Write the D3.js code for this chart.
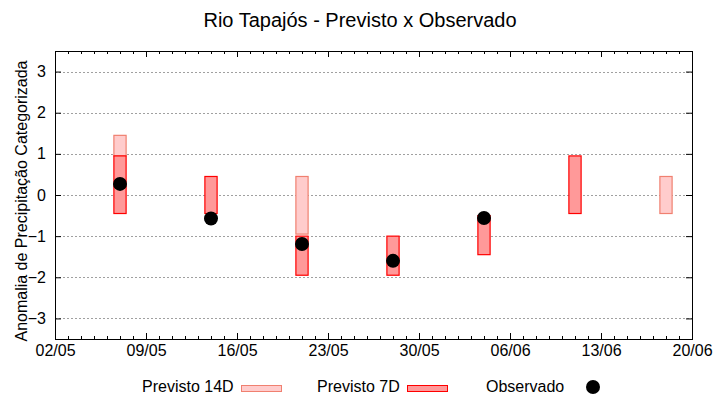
<!DOCTYPE html>
<head>
  <meta charset="utf-8">
  <script src="https://d3js.org/d3.v7.min.js"></script>
  <style>
    body { margin: 0; background: #fff; }
    text { font-family: "Liberation Sans", Arial, sans-serif; fill: #000; }
    .grid line { stroke: #a0a0a0; stroke-dasharray: 2,2; }
  </style>
</head>
<body>
  <script>
    var width = 720;
    var height = 400;

    // weekly forecasts / observations
    var dates = ["2021-05-07", "2021-05-14", "2021-05-21", "2021-05-28", "2021-06-04", "2021-06-11", "2021-06-18"];
    var prev14Low  = [0.95, null, -0.95, null, null, null, -0.45];
    var prev14High = [1.45, null, 0.45, null, null, null, 0.45];
    var prev7Low   = [-0.45, -0.45, -1.95, -1.95, -1.45, -0.45, null];
    var prev7High  = [0.95, 0.45, -1.0, -1.0, -0.5, 0.95, null];
    var observado  = [0.27, -0.57, -1.19, -1.6, -0.56, null, null];
    var xTicks = ["2021-05-02", "2021-05-09", "2021-05-16", "2021-05-23", "2021-05-30", "2021-06-06", "2021-06-13", "2021-06-20"];
    var yTicks = [-3, -2, -1, 0, 1, 2, 3];

    var margin = {left: 55, right: 28, top: 51, bottom: 61};
    var svg = d3.select("body").append("svg")
        .attr("width", width)
        .attr("height", height);

    var parse = d3.utcParse("%Y-%m-%d");
    var x = d3.scaleUtc()
        .domain([parse("2021-05-02"), parse("2021-06-20")])
        .range([margin.left, width - margin.right]);
    var y = d3.scaleLinear()
        .domain([-3.5, 3.5])
        .range([height - margin.bottom, margin.top]);

    var day = x(parse("2021-05-03")) - x(parse("2021-05-02"));
    var boxW = day * 0.94;

    // grid
    svg.append("g").attr("class", "grid")
      .selectAll("line").data(yTicks).enter().append("line")
        .attr("x1", margin.left).attr("x2", width - margin.right)
        .attr("y1", d => Math.round(y(d)) + 0.5).attr("y2", d => Math.round(y(d)) + 0.5);

    // axes
    var fmt = d3.utcFormat("%d/%m");
    var xt = xTicks.map(parse);
    var days = d3.utcDay.range(x.domain()[0], d3.utcDay.offset(x.domain()[1], 1));

    svg.append("g").attr("transform", "translate(0," + (height - margin.bottom) + ")")
      .call(d3.axisBottom(x).tickValues(days).tickSize(-3).tickFormat(""));
    svg.append("g").attr("transform", "translate(0," + (height - margin.bottom) + ")")
      .call(d3.axisBottom(x).tickValues(xt).tickSize(-6).tickPadding(6).tickFormat(fmt));
    svg.append("g").attr("transform", "translate(0," + margin.top + ")")
      .call(d3.axisTop(x).tickValues(days).tickSize(-3).tickFormat(""));
    svg.append("g").attr("transform", "translate(0," + margin.top + ")")
      .call(d3.axisTop(x).tickValues(xt).tickSize(-6).tickFormat(""));
    svg.append("g").attr("transform", "translate(" + margin.left + ",0)")
      .call(d3.axisLeft(y).tickValues(yTicks).tickSize(-6).tickPadding(9).tickFormat(d3.format("d")));
    svg.append("g").attr("transform", "translate(" + (width - margin.right) + ",0)")
      .call(d3.axisRight(y).tickValues(yTicks).tickSize(-6).tickFormat(""));

    svg.selectAll(".domain").remove();
    svg.selectAll(".tick line").attr("stroke", "#000");
    svg.selectAll(".tick text").style("font-size", "16px").style("font-family", "Liberation Sans, Arial, sans-serif");

    svg.append("rect")
      .attr("x", margin.left + 0.5).attr("y", margin.top + 0.5)
      .attr("width", width - margin.left - margin.right)
      .attr("height", height - margin.top - margin.bottom)
      .attr("fill", "none").attr("stroke", "#000");

    // boxes
    function boxes(lo, hi, fill, stroke) {
      var idx = d3.range(dates.length).filter(i => lo[i] != null);
      svg.append("g").selectAll("rect").data(idx).enter().append("rect")
        .attr("x", i => x(parse(dates[i])) - boxW / 2)
        .attr("width", boxW)
        .attr("y", i => y(hi[i]))
        .attr("height", i => y(lo[i]) - y(hi[i]))
        .attr("fill", fill).attr("stroke", stroke).attr("stroke-width", 1.2);
    }
    boxes(prev14Low, prev14High, "#ffcccc", "#f08070");
    boxes(prev7Low, prev7High, "#ff9999", "#ff0000");

    var obsIdx = d3.range(dates.length).filter(i => observado[i] != null);
    svg.append("g").selectAll("circle").data(obsIdx).enter().append("circle")
      .attr("cx", i => x(parse(dates[i])))
      .attr("cy", i => y(observado[i]))
      .attr("r", 7).attr("fill", "#000");

    // title and labels
    svg.append("text").attr("x", 360).attr("y", 27).attr("text-anchor", "middle")
      .style("font-size", "20px").text("Rio Tapajós - Previsto x Observado");
    svg.append("text")
      .attr("transform", "translate(27,201) rotate(-90)")
      .attr("text-anchor", "middle").style("font-size", "16px")
      .text("Anomalia de Precipitação Categorizada");

    // legend
    var lg = svg.append("g").style("font-size", "16px");
    lg.append("text").attr("x", 142).attr("y", 392).text("Previsto 14D");
    lg.append("rect").attr("x", 241.5).attr("y", 385.5).attr("width", 40).attr("height", 6)
      .attr("fill", "#ffcccc").attr("stroke", "#f08070");
    lg.append("text").attr("x", 317).attr("y", 392).text("Previsto 7D");
    lg.append("rect").attr("x", 407.5).attr("y", 385.5).attr("width", 40).attr("height", 6)
      .attr("fill", "#ff9999").attr("stroke", "#ff0000");
    lg.append("text").attr("x", 486).attr("y", 392).text("Observado");
    lg.append("circle").attr("cx", 593).attr("cy", 387).attr("r", 7).attr("fill", "#000");
  </script>
</body>
